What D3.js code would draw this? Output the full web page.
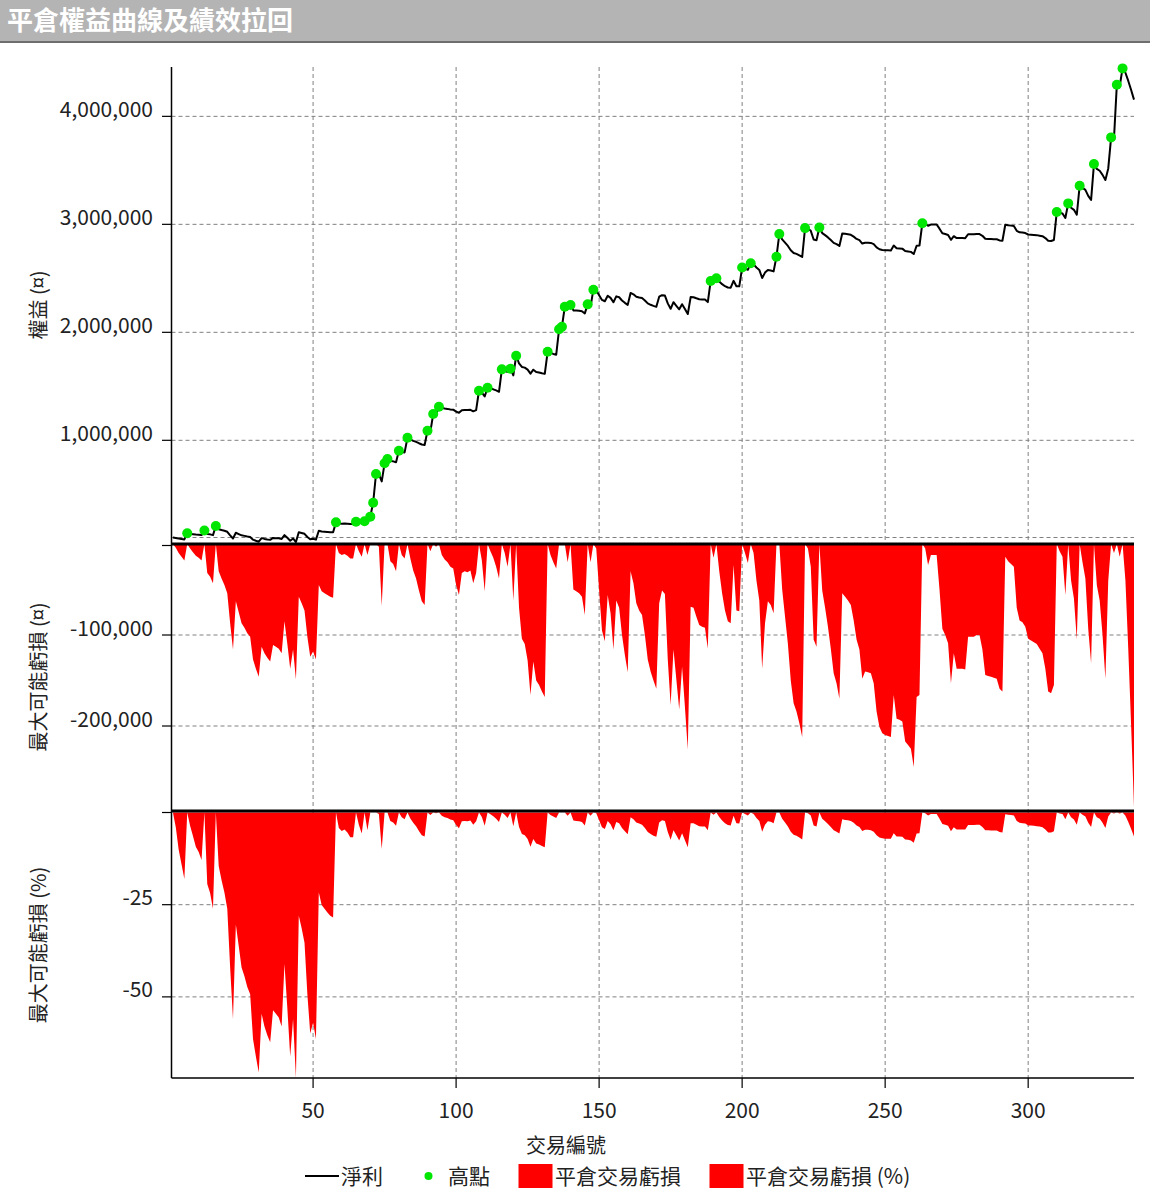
<!DOCTYPE html>
<html><head><meta charset="utf-8">
<script src="https://cdn.jsdelivr.net/npm/d3@7"></script>
<style>
body{margin:0;background:#fff}
text{font-family:"Noto Sans CJK TC","Noto Sans",sans-serif}
</style>
</head><body>
<svg id="c" width="1150" height="1192"></svg>
<script>
const title = "平倉權益曲線及績效拉回";
const xTitle = "交易編號";
const yTitles = ["權益 (¤)", "最大可能虧損 (¤)", "最大可能虧損 (%)"];
const legendLabels = ["淨利", "高點", "平倉交易虧損", "平倉交易虧損 (%)"];
const xTicks = [50, 100, 150, 200, 250, 300];
const equityTicks = [1000000, 2000000, 3000000, 4000000];
const ddTicks = [-100000, -200000];
const ddPctTicks = [-25, -50];
const startEquity = 100000;

// equity after each closed trade (trade 1..337)
const equity = [
100000,96000,90000,86000,82000,140000,135000,131000,127000,125000,
122000,165000,133000,129000,122000,207000,177000,169000,162000,153000,
120000,91000,144000,132000,120000,115000,109000,105000,80000,70000,
61000,94000,87000,82000,78000,96000,94000,92000,87000,122000,
97000,70000,91000,58000,149000,142000,134000,105000,83000,89000,
80000,162000,155000,153000,151000,149000,148000,240000,230000,228000,
229000,227000,224000,224000,245000,237000,231000,250000,238000,293000,
422000,688000,685000,620000,787000,827000,808000,805000,797000,904000,
892000,888000,1024000,1008000,995000,986000,973000,961000,957000,1089000,
1081000,1243000,1240000,1311000,1299000,1294000,1291000,1286000,1284000,1266000,
1255000,1279000,1281000,1280000,1282000,1268000,1279000,1459000,1441000,1407000,
1487000,1479000,1472000,1462000,1449000,1657000,1647000,1632000,1663000,1601000,
1783000,1713000,1679000,1673000,1655000,1617000,1654000,1633000,1628000,1621000,
1615000,1820000,1808000,1800000,1793000,2028000,2052000,2236000,2216000,2253000,
2203000,2201000,2199000,2195000,2175000,2259000,2239000,2395000,2390000,2344000,
2300000,2288000,2339000,2319000,2279000,2333000,2325000,2295000,2273000,2254000,
2365000,2352000,2330000,2322000,2317000,2295000,2268000,2255000,2245000,2236000,
2330000,2344000,2340000,2268000,2218000,2279000,2246000,2213000,2260000,2216000,
2169000,2326000,2325000,2315000,2306000,2304000,2303000,2280000,2475000,2460000,
2500000,2470000,2446000,2427000,2415000,2413000,2477000,2427000,2426000,2600000,
2590000,2579000,2640000,2630000,2600000,2578000,2503000,2553000,2577000,2573000,
2564000,2700000,2910000,2860000,2830000,2800000,2760000,2735000,2726000,2713000,
2698000,2965000,2960000,2940000,2860000,2852000,2970000,2919000,2900000,2879000,
2855000,2828000,2817000,2800000,2916000,2912000,2908000,2903000,2886000,2865000,
2854000,2822000,2830000,2829000,2828000,2817000,2786000,2769000,2762000,2760000,
2759000,2758000,2804000,2778000,2777000,2775000,2753000,2749000,2745000,2725000,
2802000,2804000,3010000,3005000,2987000,2998000,2998000,2998000,2960000,2917000,
2910000,2901000,2857000,2890000,2873000,2873000,2873000,2872000,2908000,2908000,
2908000,2910000,2910000,2894000,2866000,2865000,2864000,2863000,2862000,2851000,
2848000,2996000,2991000,2988000,2985000,2940000,2926000,2924000,2919000,2906000,
2904000,2902000,2900000,2895000,2890000,2873000,2848000,2846000,2855000,3115000,
3107000,3101000,3059000,3194000,3154000,3134000,3089000,3357000,3337000,3319000,
3264000,3226000,3558000,3513000,3496000,3458000,3410000,3518000,3805000,3795000,
4293000,4279000,4444000,4404000,4328000,4244000,4155000
];

// closed-trade drawdown in currency
const drawdown = [
0,-4000,-10000,-14000,-18000,0,-5000,-9000,-13000,-15000,
-18000,0,-32000,-36000,-43000,0,-30000,-38000,-45000,-54000,
-87000,-116000,-63000,-75000,-87000,-92000,-98000,-102000,-127000,-137000,
-146000,-113000,-120000,-125000,-129000,-111000,-113000,-115000,-120000,-85000,
-110000,-137000,-116000,-149000,-58000,-65000,-73000,-102000,-124000,-118000,
-127000,-45000,-52000,-54000,-56000,-58000,-59000,0,-10000,-12000,
-11000,-13000,-16000,-16000,0,-8000,-14000,0,-12000,0,
0,0,-3000,-68000,0,0,-19000,-22000,-30000,0,
-12000,-16000,0,-16000,-29000,-38000,-51000,-63000,-67000,0,
-8000,0,-3000,0,-12000,-17000,-20000,-25000,-27000,-45000,
-56000,-32000,-30000,-31000,-29000,-43000,-32000,0,-18000,-52000,
0,-8000,-15000,-25000,-38000,0,-10000,-25000,0,-62000,
0,-70000,-104000,-110000,-128000,-166000,-129000,-150000,-155000,-162000,
-168000,0,-12000,-20000,-27000,0,0,0,-20000,0,
-50000,-52000,-54000,-58000,-78000,0,-20000,0,-5000,-51000,
-95000,-107000,-56000,-76000,-116000,-62000,-70000,-100000,-122000,-141000,
-30000,-43000,-65000,-73000,-78000,-100000,-127000,-140000,-150000,-159000,
-65000,-51000,-55000,-127000,-177000,-116000,-149000,-182000,-135000,-179000,
-226000,-69000,-70000,-80000,-89000,-91000,-92000,-115000,0,-15000,
0,-30000,-54000,-73000,-85000,-87000,-23000,-73000,-74000,0,
-10000,-21000,0,-10000,-40000,-62000,-137000,-87000,-63000,-67000,
-76000,0,0,-50000,-80000,-110000,-150000,-175000,-184000,-197000,
-212000,0,-5000,-25000,-105000,-113000,0,-51000,-70000,-91000,
-115000,-142000,-153000,-170000,-54000,-58000,-62000,-67000,-84000,-105000,
-116000,-148000,-140000,-141000,-142000,-153000,-184000,-201000,-208000,-210000,
-211000,-212000,-166000,-192000,-193000,-195000,-217000,-221000,-225000,-245000,
-168000,-166000,0,-5000,-23000,-12000,-12000,-12000,-50000,-93000,
-100000,-109000,-153000,-120000,-137000,-137000,-137000,-138000,-102000,-102000,
-102000,-100000,-100000,-116000,-144000,-145000,-146000,-147000,-148000,-159000,
-162000,-14000,-19000,-22000,-25000,-70000,-84000,-86000,-91000,-104000,
-106000,-108000,-110000,-115000,-120000,-137000,-162000,-164000,-155000,0,
-8000,-14000,-56000,0,-40000,-60000,-105000,0,-20000,-38000,
-93000,-131000,0,-45000,-62000,-100000,-148000,-40000,0,-10000,
0,-14000,0,-40000,-116000,-200000,-289000
];

// closed-trade drawdown in percent
const drawdownPct = [
0,-4.0,-10.0,-14.0,-18.0,0,-3.6,-6.4,-9.3,-10.7,
-12.9,0,-19.4,-21.8,-26.1,0,-14.5,-18.4,-21.7,-26.1,
-42.0,-56.0,-30.4,-36.2,-42.0,-44.4,-47.3,-49.3,-61.4,-66.2,
-70.5,-54.6,-58.0,-60.4,-62.3,-53.6,-54.6,-55.6,-58.0,-41.1,
-53.1,-66.2,-56.0,-72.0,-28.0,-31.4,-35.3,-49.3,-59.9,-57.0,
-61.4,-21.7,-25.1,-26.1,-27.1,-28.0,-28.5,0,-4.2,-5.0,
-4.6,-5.4,-6.7,-6.7,0,-3.3,-5.7,0,-4.8,0,
0,0,-0.4,-9.9,0,0,-2.3,-2.7,-3.6,0,
-1.3,-1.8,0,-1.6,-2.8,-3.7,-5.0,-6.2,-6.5,0,
-0.7,0,-0.2,0,-0.9,-1.3,-1.5,-1.9,-2.1,-3.4,
-4.3,-2.4,-2.3,-2.4,-2.2,-3.3,-2.4,0,-1.2,-3.6,
0,-0.5,-1.0,-1.7,-2.6,0,-0.6,-1.5,0,-3.7,
0,-3.9,-5.8,-6.2,-7.2,-9.3,-7.2,-8.4,-8.7,-9.1,
-9.4,0,-0.7,-1.1,-1.5,0,0,0,-0.9,0,
-2.2,-2.3,-2.4,-2.6,-3.5,0,-0.9,0,-0.2,-2.1,
-4.0,-4.5,-2.3,-3.2,-4.8,-2.6,-2.9,-4.2,-5.1,-5.9,
-1.3,-1.8,-2.7,-3.0,-3.3,-4.2,-5.3,-5.8,-6.3,-6.6,
-2.7,-2.1,-2.3,-5.3,-7.4,-4.8,-6.2,-7.6,-5.6,-7.5,
-9.4,-2.9,-2.9,-3.3,-3.7,-3.8,-3.8,-4.8,0,-0.6,
0,-1.2,-2.2,-2.9,-3.4,-3.5,-0.9,-2.9,-3.0,0,
-0.4,-0.8,0,-0.4,-1.5,-2.3,-5.2,-3.3,-2.4,-2.5,
-2.9,0,0,-1.7,-2.7,-3.8,-5.2,-6.0,-6.3,-6.8,
-7.3,0,-0.2,-0.8,-3.5,-3.8,0,-1.7,-2.4,-3.1,
-3.9,-4.8,-5.2,-5.7,-1.8,-2.0,-2.1,-2.3,-2.8,-3.5,
-3.9,-5.0,-4.7,-4.7,-4.8,-5.2,-6.2,-6.8,-7.0,-7.1,
-7.1,-7.1,-5.6,-6.5,-6.5,-6.6,-7.3,-7.4,-7.6,-8.2,
-5.7,-5.6,0,-0.2,-0.8,-0.4,-0.4,-0.4,-1.7,-3.1,
-3.3,-3.6,-5.1,-4.0,-4.6,-4.6,-4.6,-4.6,-3.4,-3.4,
-3.4,-3.3,-3.3,-3.9,-4.8,-4.8,-4.9,-4.9,-4.9,-5.3,
-5.4,-0.5,-0.6,-0.7,-0.8,-2.3,-2.8,-2.9,-3.0,-3.5,
-3.5,-3.6,-3.7,-3.8,-4.0,-4.6,-5.4,-5.4,-5.1,0,
-0.3,-0.4,-1.8,0,-1.3,-1.9,-3.3,0,-0.6,-1.1,
-2.8,-3.9,0,-1.3,-1.7,-2.8,-4.2,-1.1,0,-0.3,
0,-0.3,0,-0.9,-2.6,-4.5,-6.5
];

// trades that set a new equity high
const highTrades = [6,12,16,58,65,68,70,71,72,75,76,80,83,90,92,94,108,111,116,119,121,
132,136,137,138,140,146,148,189,191,200,203,212,213,222,227,263,310,314,318,323,329,331,333];

const svg = d3.select("#c");
const L = 171.5, R = 1134;
const x = d3.scaleLinear().domain([0.5, equity.length]).range([L, R]);
const yE = d3.scaleLinear().domain([49000, 4457000]).range([543, 67]);
const yD = d3.scaleLinear().domain([-292300, 0]).range([810, 544]);
const yP = d3.scaleLinear().domain([-72, 0]).range([1078, 812.5]);
const fmt = d3.format(",");
const gridC = "#808080";
const txtC = "#222";

// title bar
svg.append("rect").attr("x",0).attr("y",0).attr("width",1150).attr("height",41).attr("fill","#b4b4b4");
svg.append("line").attr("x1",0).attr("x2",1150).attr("y1",42).attr("y2",42).attr("stroke","#6e6e6e").attr("stroke-width",2);
svg.append("text").attr("x",7).attr("y",30).attr("fill","#fff").attr("font-size",26).attr("font-weight",600).text(title);

// grid
const g = svg.append("g");
g.selectAll(".vg").data(xTicks).join("line")
  .attr("x1",d=>x(d)).attr("x2",d=>x(d)).attr("y1",67).attr("y2",1078)
  .attr("stroke",gridC).attr("stroke-dasharray","4,3");
const hLines = equityTicks.map(v=>yE(v)).concat([yE(startEquity)], ddTicks.map(v=>yD(v)), ddPctTicks.map(v=>yP(v)));
g.selectAll(".hg").data(hLines).join("line")
  .attr("x1",L).attr("x2",R).attr("y1",d=>d).attr("y2",d=>d)
  .attr("stroke",gridC).attr("stroke-dasharray","4,3");

// drawdown areas
const idx = d3.range(equity.length);
svg.append("path").datum(idx)
  .attr("d", d3.area().x(i=>x(i+1)).y0(yD(0)).y1(i=>yD(drawdown[i])))
  .attr("fill","#ff0000");
svg.append("path").datum(idx)
  .attr("d", d3.area().x(i=>x(i+1)).y0(yP(0)).y1(i=>yP(drawdownPct[i])))
  .attr("fill","#ff0000");

// panel separators
svg.append("line").attr("x1",L).attr("x2",R).attr("y1",544).attr("y2",544).attr("stroke","#000").attr("stroke-width",3);
svg.append("line").attr("x1",L).attr("x2",R).attr("y1",811).attr("y2",811).attr("stroke","#000").attr("stroke-width",3);

// equity line
svg.append("path").datum(idx)
  .attr("d", d3.line().x(i=>x(i+1)).y(i=>yE(equity[i])))
  .attr("fill","none").attr("stroke","#000").attr("stroke-width",2).attr("stroke-linejoin","round");
svg.selectAll(".hi").data(highTrades).join("circle")
  .attr("cx",t=>x(t)).attr("cy",t=>yE(equity[t-1])).attr("r",5).attr("fill","#00e600");

// axes lines
svg.append("line").attr("x1",L).attr("x2",L).attr("y1",67).attr("y2",1078).attr("stroke","#000").attr("stroke-width",1.5);
svg.append("line").attr("x1",L).attr("x2",R).attr("y1",1078).attr("y2",1078).attr("stroke","#000").attr("stroke-width",1.5);

// y ticks & labels
const yt = [];
equityTicks.forEach(v=>yt.push({y:yE(v),t:fmt(v)}));
yt.push({y:545.5,t:""});
ddTicks.forEach(v=>yt.push({y:yD(v),t:fmt(v).replace("−","-")}));
yt.push({y:yP(0),t:""});
ddPctTicks.forEach(v=>yt.push({y:yP(v),t:String(v)}));
svg.selectAll(".ytk").data(yt).join("line")
  .attr("x1",162).attr("x2",L).attr("y1",d=>d.y).attr("y2",d=>d.y).attr("stroke","#000").attr("stroke-width",1.2);
svg.selectAll(".ytl").data(yt).join("text")
  .attr("x",153).attr("y",d=>d.y+0.5).attr("text-anchor","end").attr("font-size",21).attr("fill",txtC)
  .text(d=>d.t);

// x ticks & labels
svg.selectAll(".xtk").data(xTicks).join("line")
  .attr("x1",d=>x(d)).attr("x2",d=>x(d)).attr("y1",1078).attr("y2",1088).attr("stroke","#000").attr("stroke-width",1.2);
svg.selectAll(".xtl").data(xTicks).join("text")
  .attr("x",d=>x(d)).attr("y",1118).attr("text-anchor","middle").attr("font-size",21).attr("fill",txtC).text(d=>d);

// axis titles
svg.append("text").attr("x",566).attr("y",1153).attr("text-anchor","middle").attr("font-size",20).attr("fill",txtC).text(xTitle);
const yCenters = [305, 677, 945];
yTitles.forEach((t,i)=>{
  svg.append("text").attr("transform",`translate(37,${yCenters[i]}) rotate(-90)`)
    .attr("text-anchor","middle").attr("dominant-baseline","central").attr("font-size",20).attr("fill",txtC).text(t);
});

// legend
const ly = 1176;
const lg = svg.append("g");
lg.append("line").attr("x1",305).attr("x2",339).attr("y1",ly).attr("y2",ly).attr("stroke","#000").attr("stroke-width",2);
lg.append("text").attr("x",341).attr("y",ly+7.5).attr("font-size",21).attr("fill",txtC).text(legendLabels[0]);
lg.append("circle").attr("cx",428.5).attr("cy",ly).attr("r",4).attr("fill","#00e600");
lg.append("text").attr("x",448).attr("y",ly+7.5).attr("font-size",21).attr("fill",txtC).text(legendLabels[1]);
lg.append("rect").attr("x",518.5).attr("y",1164).attr("width",34).attr("height",24).attr("fill","#ff0000");
lg.append("text").attr("x",555).attr("y",ly+7.5).attr("font-size",21).attr("fill",txtC).text(legendLabels[2]);
lg.append("rect").attr("x",709.5).attr("y",1164).attr("width",34).attr("height",24).attr("fill","#ff0000");
lg.append("text").attr("x",746).attr("y",ly+7.5).attr("font-size",21).attr("fill",txtC).text(legendLabels[3]);
</script>
</body></html>
